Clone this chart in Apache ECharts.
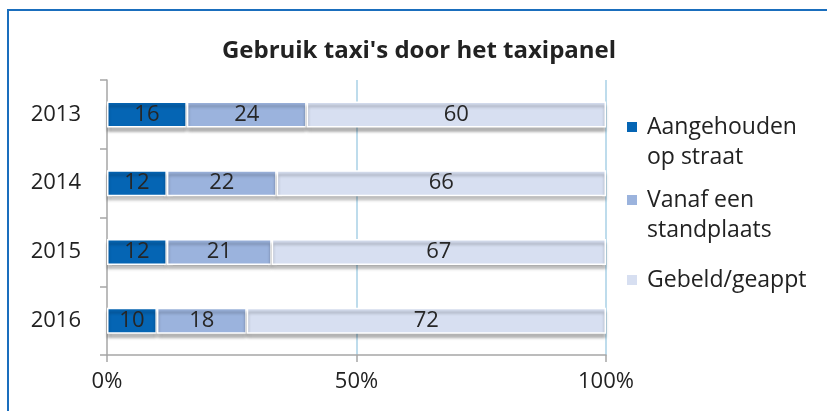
<!DOCTYPE html>
<html>
<head>
<meta charset="utf-8">
<script src="https://cdn.jsdelivr.net/npm/echarts@6/dist/echarts.min.js"></script>
<style>html,body{margin:0;padding:0;background:#fff;}#c{width:827px;height:411px;}</style>
</head>
<body>
<div id="c"></div>
<script>
const categories = ['2013', '2014', '2015', '2016'];
const seriesNames = ['Aangehouden\nop straat', 'Vanaf een\nstandplaats', 'Gebeld/geappt'];
const aangehouden = [16, 12, 12, 10];
const vanaf = [24, 22, 21, 18];
const gebeld = [60, 66, 67, 72];
const xTicks = [0, 50, 100];
const titleText = "Gebruik taxi's door het taxipanel";

const colors = ['#0565B4', '#9BB3DD', '#D7DFF1'];
const FONT = 'Open Sans';
const dataSets = [aangehouden, vanaf, gebeld];

const chart = echarts.init(document.getElementById('c'), null, {renderer: 'canvas'});

const series = dataSets.map((d, i) => ({
  name: seriesNames[i],
  type: 'bar',
  stack: 'total',
  barWidth: 26,
  data: d,
  itemStyle: {
    color: colors[i],
    borderColor: '#ffffff',
    borderWidth: 1.5,
    shadowColor: 'rgba(0,0,0,0.3)',
    shadowBlur: 3,
    shadowOffsetY: 4
  },
  label: {
    show: true,
    position: 'inside',
    color: '#262626',
    fontFamily: FONT,
    fontSize: 22,
    formatter: p => String(p.value)
  }
}));

const iconTop = 'path://M0,0h12v12h-12z M0,41.9h0.1v0.1h-0.1z';
const iconMid = 'path://M0,15h12v12h-12z M0,0h0.1v0.1h-0.1z M0,41.9h0.1v0.1h-0.1z';

chart.setOption({
  animation: false,
  graphic: [
    {type: 'rect', shape: {x: 8, y: 10, width: 900, height: 500},
     style: {fill: 'none', stroke: '#1A6EBD', lineWidth: 2}},
    {type: 'text', x: 419, y: 51,
     style: {text: titleText, fontFamily: FONT, fontWeight: 'bold', fontSize: 24,
       fill: '#222222', align: 'center', verticalAlign: 'middle'}}
  ],
  legend: {
    orient: 'vertical',
    left: 625,
    top: 112,
    padding: 0,
    itemGap: 13,
    itemWidth: 12,
    itemHeight: 42,
    data: [
      {name: seriesNames[0], icon: iconTop},
      {name: seriesNames[1], icon: iconTop},
      {name: seriesNames[2], icon: iconMid}
    ],
    textStyle: {fontFamily: FONT, fontSize: 23, lineHeight: 30, color: '#222222', padding: [0, 0, 0, 4]}
  },
  grid: {left: 107, right: 221, top: 80, bottom: 56, containLabel: false},
  xAxis: {
    type: 'value',
    min: 0, max: 100, interval: 50,
    axisLine: {show: true, lineStyle: {color: '#A6A6A6', width: 1.5}},
    axisTick: {show: true, length: 7, lineStyle: {color: '#A6A6A6', width: 1.5}},
    axisLabel: {fontFamily: FONT, fontSize: 22, color: '#222222', margin: 16,
      formatter: v => xTicks.includes(v) ? v + '%' : ''},
    splitLine: {show: true, lineStyle: {color: ['rgba(0,0,0,0)', '#A9D0E6', '#A9D0E6'], width: 1.5}}
  },
  yAxis: {
    type: 'category',
    inverse: true,
    data: categories,
    axisLine: {show: true, lineStyle: {color: '#A6A6A6', width: 1.5}},
    axisTick: {show: true, length: 7, alignWithLabel: false, lineStyle: {color: '#A6A6A6', width: 1.5}},
    axisLabel: {fontFamily: FONT, fontSize: 22, color: '#222222', margin: 26}
  },
  series: series
});
</script>
</body>
</html>
